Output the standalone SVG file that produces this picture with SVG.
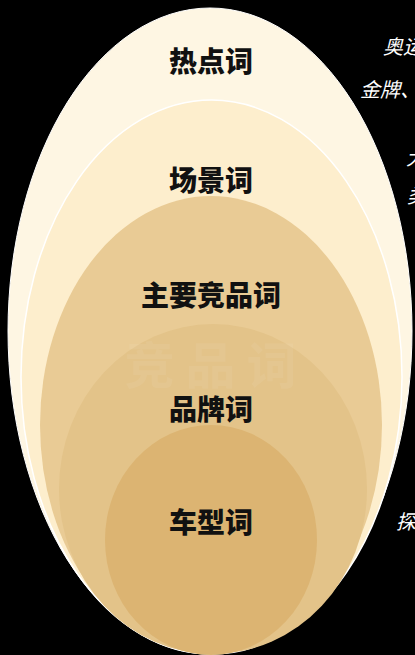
<svg xmlns="http://www.w3.org/2000/svg" width="415" height="655" viewBox="0 0 415 655">
<style>
.lbl{font-family:"Noto Sans CJK SC","Noto Sans",sans-serif;font-weight:900;font-size:28px;fill:#111;text-anchor:middle}
.side{font-family:"Noto Sans CJK SC","Noto Sans",sans-serif;font-size:20px;fill:#fff;font-style:italic}
.ghost{font-family:"Noto Sans CJK SC",sans-serif;font-weight:700;font-size:50px;letter-spacing:11px;fill:#fff;opacity:0.06;text-anchor:middle}
</style>
<rect width="415" height="655" fill="#000"/>
<g id="side-text">
<text class="side" x="383" y="54">奥运</text>
<text class="side" x="360" y="97">金牌、</text>
<text class="side" x="406" y="165">大</text>
<text class="side" x="407" y="203">类</text>
<text class="side" x="396" y="529">探</text>
</g>
<g id="hot">
<ellipse cx="210" cy="331" rx="202" ry="323" fill="#FEF6E3" stroke="#fff" stroke-width="1"/>
<text class="lbl" x="211" y="72">热点词</text>
</g>
<g id="scene">
<ellipse cx="211.5" cy="377" rx="190.5" ry="277" fill="#FDEECD" stroke="#fff" stroke-width="1.5"/>
<text class="lbl" x="211" y="191">场景词</text>
</g>
<g id="competitor">
<ellipse cx="211" cy="425" rx="171" ry="229" fill="#E9CB95"/>
<text class="lbl" x="211" y="306">主要竞品词</text>
</g>
<g id="brand">
<ellipse cx="213" cy="489" rx="154" ry="165" fill="#E3C389"/>
<text class="ghost" x="216" y="384">竞品词</text>
<text class="lbl" x="211" y="420">品牌词</text>
</g>
<g id="model">
<ellipse cx="211" cy="540" rx="106" ry="115" fill="#DCB472"/>
<text class="lbl" x="211" y="533">车型词</text>
</g>
</svg>
